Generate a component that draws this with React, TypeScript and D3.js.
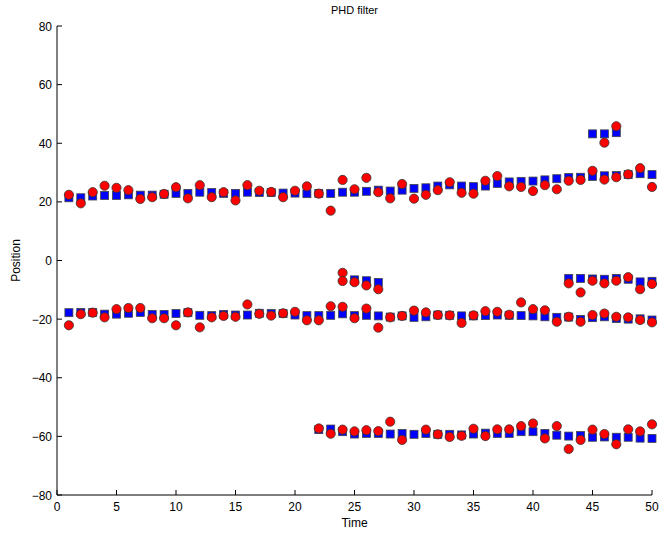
import React from "react";
import * as d3 from "d3";

const W = 660;
const H = 534;

const xTicks = [0, 5, 10, 15, 20, 25, 30, 35, 40, 45, 50];
const yTicks = [-80, -60, -40, -20, 0, 20, 40, 60, 80];

const upperStart = 1;
const upperTruth = [21.4, 21.4, 22, 22.2, 22.2, 22.4, 22.3, 22.3, 22.6, 22.9, 22.9, 23.3, 23.2, 22.9, 22.9, 23.3, 23.2, 23.2, 23, 23, 22.8, 22.9, 22.9, 23.3, 23.3, 23.6, 24, 23.7, 24, 24.6, 24.8, 25.4, 25.8, 25.4, 25.2, 25.4, 26.3, 26.8, 27, 27.1, 27.5, 27.9, 28.3, 28.4, 28.7, 28.9, 29, 29.3, 29.6, 29.3];
const upperEst = [22.4, 19.5, 23.3, 25.5, 24.8, 24, 21, 21.6, 22.7, 25, 21.2, 25.7, 21.6, 23.3, 20.5, 25.7, 23.8, 23.4, 21.6, 23.8, 25.3, 22.8, 17, 27.5, 24.3, 28.2, 23.3, 21.2, 26.1, 21.1, 22.4, 24, 26.7, 23.1, 22.8, 27.2, 28.8, 25.3, 25.1, 23.7, 25.7, 24.3, 27.2, 27.5, 30.6, 27.6, 28.4, 29.4, 31.5, 25.1];

const midStart = 1;
const midTruth = [-17.8, -17.7, -17.7, -18.3, -18.3, -18, -17.7, -18.4, -18.4, -18.1, -17.8, -18.7, -18.8, -18.4, -18.6, -18.6, -18, -18.1, -18.1, -18.6, -18.8, -18.8, -18.7, -18.2, -18.8, -18.7, -18.9, -19.3, -18.9, -19.4, -19.2, -18.6, -18.7, -18.9, -18.9, -18.8, -18.6, -18.7, -18.8, -18.9, -19.2, -19.4, -19.3, -20.1, -19.5, -19.2, -19.8, -20, -19.9, -20.3];
const midEst = [-22.1, -18.3, -17.8, -19.4, -16.6, -16.2, -16.2, -19.7, -19.7, -22.1, -17.7, -22.8, -19.4, -18.9, -19.2, -15, -18.2, -18.8, -18, -17.5, -20.4, -20.4, -15.6, -15.8, -19.7, -16.4, -22.9, -19.4, -18.9, -17.1, -17.7, -18.6, -18.7, -21.3, -18.7, -17.3, -17.5, -18.5, -14.3, -16.6, -17, -20.9, -19.2, -20.9, -18.6, -18.1, -19.2, -19.4, -20.3, -21.1];

const lowStart = 22;
const lowTruth = [-57.7, -57.5, -58.4, -59.2, -59, -59, -59.2, -59, -59.3, -59, -59.3, -59.3, -59.5, -59.2, -58.9, -59, -59, -58.4, -58.4, -59, -59.6, -59.9, -59.7, -60.3, -60.2, -60.3, -60.3, -60.6, -60.7];
const lowEst: (number | null)[] = [-57.3, -59.1, -57.7, -58.3, -57.9, -58.2, -55, -61.2, null, -57.7, -59.3, -60.2, -59.8, -57.4, -59.9, -57.6, -57.6, -56.5, -55.6, -60.7, -56.5, -64.3, -61.2, -57.7, -59.2, -62.7, -57.6, -58.3, -55.9];

const birthTruthStart = 25;
const birthTruth = [-6.6, -6.9, -7.5];
const birthEstTimes = [24, 24, 25, 26, 27];
const birthEst = [-4.2, -7, -7.4, -8.5, -9.8];

const rightStart = 43;
const rightTruth = [-6.1, -6.1, -6.3, -6.4, -6.1, -6.4, -7.3, -7.1];
const rightEst = [-7.8, -10.9, -6.9, -7.8, -6.9, -5.7, -9.8, -8];

const topTruthStart = 45;
const topTruth = [43.2, 43.2, 43.6];
const topEstTimes = [46, 47];
const topEst = [40.2, 45.8];

type P = { t: number; v: number };

function seq(start: number, vals: (number | null)[]): P[] {
  const out: P[] = [];
  vals.forEach((v, i) => {
    if (v !== null) out.push({ t: start + i, v });
  });
  return out;
}
function pairs(ts: number[], vals: number[]): P[] {
  return ts.map((t, i) => ({ t, v: vals[i] }));
}

const truthPts: P[] = [
  ...seq(upperStart, upperTruth),
  ...seq(midStart, midTruth),
  ...seq(lowStart, lowTruth),
  ...seq(birthTruthStart, birthTruth),
  ...seq(rightStart, rightTruth),
  ...seq(topTruthStart, topTruth),
];
const estPts: P[] = [
  ...seq(upperStart, upperEst),
  ...seq(midStart, midEst),
  ...seq(lowStart, lowEst),
  ...pairs(birthEstTimes, birthEst),
  ...seq(rightStart, rightEst),
  ...pairs(topEstTimes, topEst),
];

const FONT = "'Liberation Sans', Arial, Helvetica, sans-serif";

export default function App() {
  const x = d3.scaleLinear().domain([0, 50]).range([57, 652]);
  const y = d3.scaleLinear().domain([-80, 80]).range([495, 26]);
  const fmt = (v: number) => (v < 0 ? "\u2212" + Math.abs(v) : String(v));
  const sq = 8;
  return (
    <svg
      width={W}
      height={H}
      style={{ position: "absolute", left: 0, top: 0, background: "#fff" }}
      fontFamily={FONT}
    >
      <rect x={0} y={0} width={W} height={H} fill="#fff" />
      <text x={(x(0) + x(50)) / 2} y={14} fontSize={11} textAnchor="middle" fill="#000">
        PHD filter
      </text>
      {/* axes */}
      <line x1={x(0)} x2={x(0)} y1={y(80)} y2={y(-80)} stroke="#000" strokeWidth={1} />
      <line x1={x(0)} x2={x(50)} y1={y(-80)} y2={y(-80)} stroke="#000" strokeWidth={1} />
      {yTicks.map((t) => (
        <g key={"y" + t}>
          <line x1={x(0)} x2={x(0) + 5} y1={y(t)} y2={y(t)} stroke="#000" />
          <text x={x(0) - 5} y={y(t) + 4.5} fontSize={12} textAnchor="end" fill="#000">
            {fmt(t)}
          </text>
        </g>
      ))}
      {xTicks.map((t) => (
        <g key={"x" + t}>
          <line x1={x(t)} x2={x(t)} y1={y(-80)} y2={y(-80) - 5} stroke="#000" />
          <text x={x(t)} y={y(-80) + 16} fontSize={12} textAnchor="middle" fill="#000">
            {t}
          </text>
        </g>
      ))}
      <text x={(x(0) + x(50)) / 2} y={527} fontSize={12} textAnchor="middle" fill="#000">
        Time
      </text>
      <text
        transform={`translate(20, ${(y(80) + y(-80)) / 2}) rotate(-90)`}
        fontSize={12}
        textAnchor="middle"
        fill="#000"
      >
        Position
      </text>
      {truthPts.map((p, i) => (
        <rect
          key={"s" + i}
          x={x(p.t) - sq / 2}
          y={y(p.v) - sq / 2}
          width={sq}
          height={sq}
          fill="#0000ff"
          stroke="#444"
          strokeWidth={0.8}
        />
      ))}
      {estPts.map((p, i) => (
        <circle
          key={"c" + i}
          cx={x(p.t)}
          cy={y(p.v)}
          r={4.6}
          fill="#ff0000"
          stroke="#333"
          strokeWidth={0.8}
        />
      ))}
    </svg>
  );
}
